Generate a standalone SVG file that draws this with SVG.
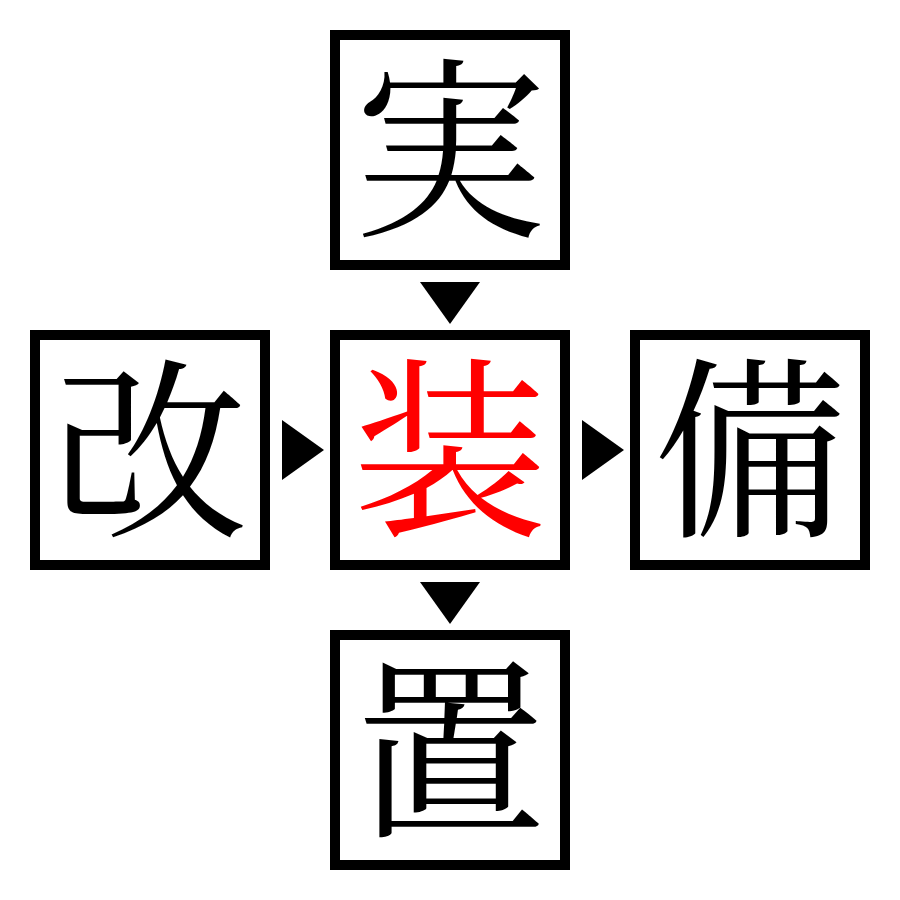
<svg xmlns="http://www.w3.org/2000/svg" width="900" height="900" viewBox="0 0 900 900">
<style>
.box{fill:#fff;stroke:#000;stroke-width:10}
.ch{font-family:"Noto Serif CJK JP","Noto Sans CJK JP",serif;font-size:194px;text-anchor:middle;dominant-baseline:central;fill:#000}
.red{fill:#ff0000}
.arr{fill:#000}
</style>
<rect width="900" height="900" fill="#fff"/>
<g id="node-top"><rect class="box" x="335" y="35" width="230" height="230"/><text class="ch" x="450" y="138">実</text></g>
<g id="node-left"><rect class="box" x="35" y="335" width="230" height="230"/><text class="ch" x="150" y="438">改</text></g>
<g id="node-center"><rect class="box" x="335" y="335" width="230" height="230"/><text class="ch red" x="450" y="438">装</text></g>
<g id="node-right"><rect class="box" x="635" y="335" width="230" height="230"/><text class="ch" x="750" y="438">備</text></g>
<g id="node-bottom"><rect class="box" x="335" y="635" width="230" height="230"/><text class="ch" x="450" y="738">置</text></g>
<g id="connectors">
<polygon class="arr" points="420,282 480,282 450,324"/>
<polygon class="arr" points="282,420 282,480 324,450"/>
<polygon class="arr" points="582,420 582,480 624,450"/>
<polygon class="arr" points="420,582 480,582 450,624"/>
</g>
</svg>
